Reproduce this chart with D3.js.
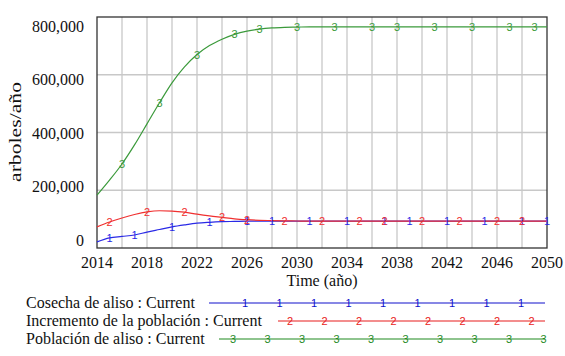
<!DOCTYPE html>
<html><head><meta charset="utf-8">
<script src="https://cdn.jsdelivr.net/npm/d3@7"></script>
<style>body{margin:0;background:#fff}svg{display:block}</style>
</head><body>
<svg id="c" width="565" height="356"></svg>
<script>
const years = [2014,2015,2016,2017,2018,2019,2020,2021,2022,2023,2024,2025,2026,2027,2028,2029,2030,2031,2032,2033,2034,2035,2036,2037,2038,2039,2040,2041,2042,2043,2044,2045,2046,2047,2048,2049,2050];
// values in trees/year (arboles/año)
const cosecha = [21000,35000,40000,45000,55000,64000,73000,80000,86000,89000,91000,92000,93000,93000,93000,93000,93000,93000,93000,93000,93000,93000,93000,93000,93000,93000,93000,93000,93000,93000,93000,93000,93000,93000,93000,93000,93000];
const incremento = [73000,90000,104000,116000,125000,129000,128000,124000,117000,111000,106000,101000,98000,96000,95000,94000,93500,93000,93000,93000,93000,93000,93000,93000,93000,93000,93000,93000,93000,93000,93000,93000,93000,93000,93000,93000,93000];
const poblacion = [183000,235000,291000,357000,430000,503000,572000,627000,670000,701000,723000,740000,751000,758000,762000,764000,765000,766000,766000,766000,766000,766000,766000,766000,766000,766000,766000,766000,766000,766000,766000,766000,766000,766000,766000,766000,766000];
const seriesNames = ["Cosecha de aliso : Current","Incremento de la población : Current","Población de aliso : Current"];
const markerYears1 = [2015,2017,2020,2023,2026,2028,2031,2034,2037,2039,2042,2045,2048,2050];
const markerYears2 = [2015,2018,2021,2024,2026,2029,2032,2035,2037,2040,2043,2046,2048];
const markerYears3 = [2016,2019,2022,2025,2027,2030,2033,2036,2038,2041,2044,2047,2049];
const xTickLabels = [2014,2018,2022,2026,2030,2034,2038,2042,2046,2050];
const xGrid = [2016,2018,2020,2022,2024,2026,2028,2030,2032,2034,2036,2038,2040,2042,2044,2046,2048];
const yTickLabels = [0,200000,400000,600000,800000];
const yGrid = [200000,400000,600000];
const xTitle = "Time (año)";
const yTitle = "arboles/año";

const svg = d3.select("#c");
const L=97, R=547, T=17, B=248;
const x = d3.scaleLinear().domain([2014,2050]).range([L,R]);
const y = d3.scaleLinear().domain([0,800000]).range([B,T]);
const yLab = d3.scaleLinear().domain([0,800000]).range([240,26]);
const serif = "'Liberation Serif','Times New Roman',serif";
const sans = "'Liberation Sans',Arial,sans-serif";

// grid
svg.append("g").selectAll("line").data(xGrid).join("line")
  .attr("x1",d=>x(d)).attr("x2",d=>x(d)).attr("y1",T).attr("y2",B)
  .attr("stroke","#c8c8c8").attr("stroke-width",1.3);
svg.append("g").selectAll("line").data(yGrid).join("line")
  .attr("x1",L).attr("x2",R).attr("y1",d=>y(d)).attr("y2",d=>y(d))
  .attr("stroke","#c8c8c8").attr("stroke-width",1.3);
// frame
svg.append("rect").attr("x",L).attr("y",T).attr("width",R-L).attr("height",B-T)
  .attr("fill","none").attr("stroke","#333").attr("stroke-width",1.3);

// axes labels
const yAx = svg.append("g").attr("transform",`translate(${L},0)`)
  .call(d3.axisLeft(yLab).tickValues(yTickLabels).tickSize(0).tickPadding(13).tickFormat(d3.format(",")));
yAx.select(".domain").remove();
yAx.selectAll("text").attr("font-family",serif).attr("font-size",16).attr("fill","#111");

svg.append("g").selectAll("text").data(xTickLabels).join("text")
  .attr("x",d=>x(d)).attr("y",268).attr("text-anchor","middle")
  .attr("font-family",serif).attr("font-size",16).attr("fill","#111").text(d=>d);

svg.append("text").attr("x",(L+R)/2).attr("y",286).attr("text-anchor","middle")
  .attr("font-family",serif).attr("font-size",16).attr("fill","#111").text(xTitle);
svg.append("text").attr("transform","translate(21,132) rotate(-90)").attr("text-anchor","middle")
  .attr("font-family",serif).attr("font-size",16).attr("fill","#111")
  .attr("textLength",100).attr("lengthAdjust","spacingAndGlyphs").text(yTitle);

const series = [
  {vals:cosecha, color:"#2a2ae6", lcolor:"#1010cc", mark:"1", my:markerYears1, ly:303, lx:209, ms:245},
  {vals:incremento, color:"#f03030", lcolor:"#e81c1c", mark:"2", my:markerYears2, ly:321, lx:278, ms:290},
  {vals:poblacion, color:"#3b9a3b", lcolor:"#1f8a1f", mark:"3", my:markerYears3, ly:339, lx:219, ms:233}
];
const line = d3.line().x((d,i)=>x(years[i])).y(d=>y(d)).curve(d3.curveMonotoneX);
const lineG = svg.append("g"), markG = svg.append("g");
series.forEach(s=>{
  lineG.append("path").attr("d",line(s.vals)).attr("fill","none").attr("stroke",s.color).attr("stroke-width",1.2);
});
series.forEach(s=>{
  markG.append("g").selectAll("text").data(s.my).join("text")
    .attr("x",d=>x(d)).attr("y",d=>y(s.vals[years.indexOf(d)])+4)
    .attr("text-anchor","middle").attr("font-family",sans).attr("font-size",11)
    .attr("fill",s.color).text(s.mark);
});

// legend
const legX = 26, legEnd = 545, step = 34.5;
series.forEach((s,k)=>{
  const g = svg.append("g");
  g.append("text").attr("x",legX).attr("y",s.ly+5).attr("font-family",serif).attr("font-size",16)
    .attr("fill","#111").text(seriesNames[k]);
  g.append("line").attr("x1",s.lx).attr("x2",legEnd).attr("y1",s.ly).attr("y2",s.ly)
    .attr("stroke",s.lcolor).attr("stroke-width",1.2);
  const ms = d3.range(s.ms, legEnd+1, step);
  g.selectAll("text.m").data(ms).join("text").attr("class","m")
    .attr("x",d=>d).attr("y",s.ly+4).attr("text-anchor","middle")
    .attr("font-family",sans).attr("font-size",11).attr("fill",s.lcolor).text(s.mark);
});
</script>
</body></html>
